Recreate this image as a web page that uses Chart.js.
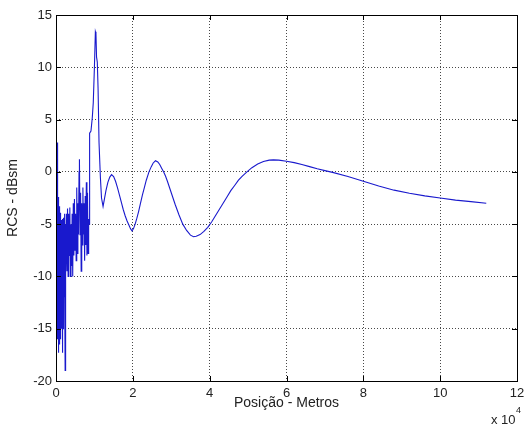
<!DOCTYPE html>
<html>
<head>
<meta charset="utf-8">
<script src="https://cdn.jsdelivr.net/npm/chart.js@4/dist/chart.umd.min.js"></script>
<style>
html,body{margin:0;padding:0;background:#fff;}
#wrap{width:530px;height:428px;}
</style>
</head>
<body>
<div id="wrap"><canvas id="c" width="530" height="428"></canvas></div>
<script>
// Posição (m) and RCS (dBsm)
const posicao = [
 0,20,40,60,80,100,120,140,160,180,200,220,240,260,280,300,320,340,360,380,
 400,420,440,460,480,500,520,540,560,580,600,620,640,660,680,700,720,740,760,780,
 800,820,840,860,880,900,920,940,960,980,1000,1020,1040,1060,1080,1100,1120,1140,1160,1180,
 1200,1220,1240,1260,1280,1300,1320,1340,1360,1380,1400,1420,1440,1460,1480,1500,1520,1540,1560,1580,
 1600,1620,1640,1660,1680,1700,1720,1740,1760,1780,1800,1820,1840,1860,1880,1900,1920,1940,1960,1980,
 2000,2040,2080,2120,2160,2200,2240,2280,2320,2380,2450,
 2550,2700,2850,3000,3150,3300,3450,3600,3750,3900,4050,4200,4350,4500,4650,4800,4950,5100,
 5250,5400,5550,5700,5850,6000,6100,6250,6400,6550,6700,6850,7000,7150,7300,7450,7600,7750,7900,8050,
 8200,8350,8500,8620,8750,9100,9450,9700,10000,10250,10400,10550,10750,10950,11200,11550,11850,12250,
 12600,13000,13500,14000,14460,15000,15500,16000,16500,17000,17500,18000,18500,19000,19400,19800,
 20200,20600,21000,21500,22000,22500,23000,23500,24200,24800,25300,25900,26500,27000,27500,28000,
 28500,29000,30000,31000,32000,33000,34000,35000,35800,36500,37500,38500,39500,40500,41500,42500,
 43500,44500,45500,46500,47500,48500,49700,51000,52500,54000,55500,56600,58000,60000,62000,64000,
 66000,68000,70000,72000,76000,80000,84000,88000,92000,96000,100000,104000,108000,112000
];
const rcs = [
 0,-12,-0.3,-13,-0.5,-12.5,-0.8,-14,-1,-12,-1.2,-15,-1.4,-12.5,-1.6,-16,-1.8,-13,-1.5,-12,
 -0.5,2.8,-14,-2.2,-12.5,-2.3,-15.5,-2.4,-12,-2.6,-17.3,-2.7,-13,-2.9,-12,-3,-16,-3.1,-12.5,-3.2,
 -14,-3.3,-12,-3.4,-15,-3.5,-12.5,-3.6,-13,-3.7,-12,-3.8,-16.5,-3.9,-12,-4,-13.5,-4.1,-12,-4.2,
 -14.5,-4.3,-12,-4.4,-16,-4.5,-12.5,-4.6,-13,-4.7,-12,-4.8,-15,-4.9,-12,-5,-13,-5.1,-12,-5.2,
 -16.2,-5.3,-12,-5.4,-13,-4.8,-12,-5.5,-17.3,-5,-12,-4.5,-15,-5.6,-12,-4.4,-13,-5.8,-12,-5,
 -14,-5,-12,-4.5,-11,-5,-12,-4,-10,-19,-5,
 -10,-4,-9.5,-3.5,-10,-4,-8,-3.4,-10,-5,-9,-4,-10,-3,-8,-2.6,-7.5,-4,
 -8.5,-1.5,-7.8,-3,-6,0,1.2,-6,-2,-9.5,-3,-7,-1.5,-6,-3,-8.5,-2.3,-7,-1,-8,
 -2,-7.8,-4.5,-5,3.7,3.9,5.2,6.6,10,13.4,13.2,11,10.5,8,2.8,-0.5,-2.5,-3.3,
 -2.6,-1.8,-1.0,-0.5,-0.26,-0.45,-0.9,-1.5,-2.2,-2.9,-3.6,-4.2,-4.7,-5.1,-5.45,-5.65,
 -5.4,-5.0,-4.5,-3.8,-3.0,-2.2,-1.5,-0.8,0,0.5,0.85,1.06,0.95,0.7,0.35,0,
 -0.4,-0.9,-2.0,-3.1,-4.1,-5.0,-5.6,-6.05,-6.2,-6.15,-6.0,-5.7,-5.3,-4.8,-4.2,-3.6,
 -3.0,-2.4,-1.8,-1.3,-0.8,-0.4,0,0.4,0.75,1.0,1.12,1.15,1.12,1.02,0.88,0.7,
 0.5,0.3,0.12,-0.05,-0.45,-0.9,-1.35,-1.75,-2.05,-2.3,-2.5,-2.7,-2.85,-3.0
];
const xTicks = [0,20000,40000,60000,80000,100000,120000];
const yTicks = [-20,-15,-10,-5,0,5,10,15];
const xLabel = 'Posição - Metros';
const yLabel = 'RCS - dBsm';

const FONT = "'Liberation Sans', Arial, sans-serif";

const boxPlugin = {
  id: 'box',
  afterDraw(chart) {
    const {ctx, chartArea: a, scales} = chart;
    ctx.save();
    ctx.strokeStyle = '#000';
    ctx.lineWidth = 1;
    ctx.strokeRect(Math.round(a.left) + 0.5, Math.round(a.top) + 0.5,
                   Math.round(a.right - a.left), Math.round(a.bottom - a.top));
    ctx.beginPath();
    const tl = 5;
    xTicks.forEach(v => {
      const x = Math.round(scales.x.getPixelForValue(v)) + 0.5;
      ctx.moveTo(x, a.bottom); ctx.lineTo(x, a.bottom - tl);
      ctx.moveTo(x, a.top); ctx.lineTo(x, a.top + tl);
    });
    yTicks.forEach(v => {
      const y = Math.round(scales.y.getPixelForValue(v)) + 0.5;
      ctx.moveTo(a.left, y); ctx.lineTo(a.left + tl, y);
      ctx.moveTo(a.right, y); ctx.lineTo(a.right - tl, y);
    });
    ctx.stroke();
    // exponent label
    ctx.fillStyle = '#222';
    ctx.font = '13px ' + FONT;
    ctx.textBaseline = 'alphabetic';
    ctx.textAlign = 'left';
    ctx.fillText('x 10', 491, 424);
    ctx.font = '9px ' + FONT;
    ctx.fillText('4', 516, 413);
    ctx.restore();
  }
};

new Chart(document.getElementById('c'), {
  type: 'line',
  data: {
    datasets: [{
      data: posicao.map((p, i) => ({x: p, y: rcs[i]})),
      borderColor: 'rgb(25,25,205)',
      borderWidth: 1.1,
      pointRadius: 0,
      tension: 0,
      fill: false
    }]
  },
  options: {
    responsive: false,
    animation: false,
    events: [],
    layout: {padding: {left: 0, right: 13, top: 15, bottom: 0}},
    plugins: {legend: {display: false}, tooltip: {enabled: false}},
    scales: {
      x: {
        type: 'linear', min: 0, max: 120000,
        afterFit(s) { s.height = 47; },
        afterBuildTicks(s) { s.ticks = xTicks.map(v => ({value: v})); },
        ticks: {
          callback: v => String(v / 10000),
          font: {family: FONT, size: 13}, color: '#222', padding: 5, maxRotation: 0
        },
        grid: {color: 'rgba(40,40,40,0.85)', lineWidth: 1, drawTicks: false},
        border: {display: false, dash: [1, 2]},
        title: {display: true, text: xLabel, font: {family: FONT, size: 14}, color: '#222', padding: {top: 0, bottom: 16}}
      },
      y: {
        type: 'linear', min: -20, max: 15,
        afterFit(s) { s.width = 56; },
        afterBuildTicks(s) { s.ticks = yTicks.map(v => ({value: v})); },
        ticks: {font: {family: FONT, size: 13}, color: '#222', padding: 4},
        grid: {color: 'rgba(40,40,40,0.85)', lineWidth: 1, drawTicks: false},
        border: {display: false, dash: [1, 2]},
        title: {display: true, text: yLabel, font: {family: FONT, size: 14}, color: '#222', padding: {top: 5, bottom: 0}}
      }
    }
  },
  plugins: [boxPlugin]
});
</script>
</body>
</html>
